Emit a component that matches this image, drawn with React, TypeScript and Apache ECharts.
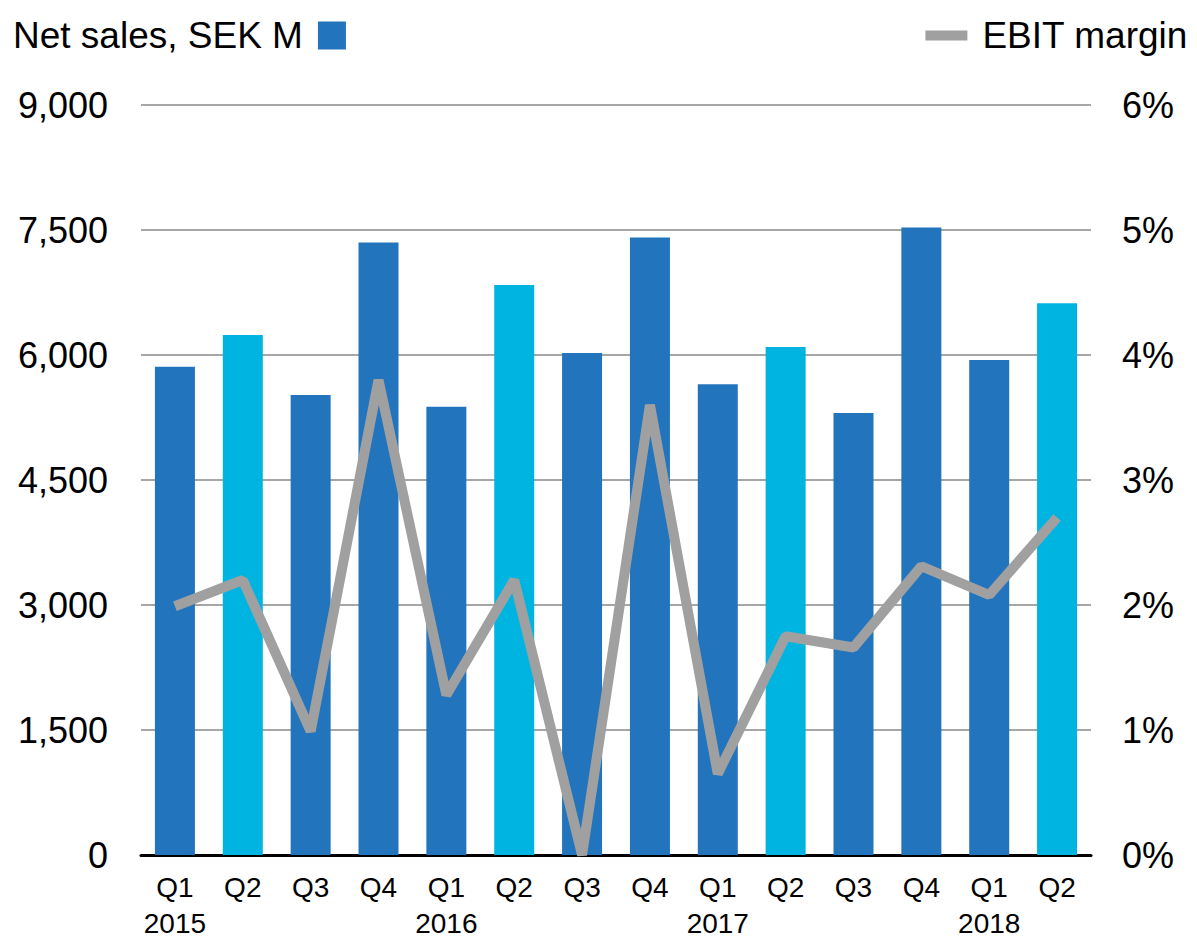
import React, { useEffect, useRef } from "react";
import * as echarts from "echarts";

const quarters = ["Q1", "Q2", "Q3", "Q4", "Q1", "Q2", "Q3", "Q4", "Q1", "Q2", "Q3", "Q4", "Q1", "Q2"];
const years = ["2015", "", "", "", "2016", "", "", "", "2017", "", "", "", "2018", ""];
const netSales = [5860, 6240, 5520, 7350, 5380, 6840, 6025, 7410, 5650, 6095, 5305, 7530, 5940, 6620];
const ebitMargin = [1.99, 2.2, 0.99, 3.8, 1.28, 2.2, 0.0, 3.6, 0.65, 1.75, 1.66, 2.31, 2.08, 2.7];
const leftTicks = { min: 0, max: 9000, interval: 1500 };
const rightTicks = { min: 0, max: 6, interval: 1 };

const DARK = "#2274BD";
const LIGHT = "#00B4E1";
const GRAY = "#A0A0A0";

export default function App() {
  const ref = useRef<HTMLDivElement>(null);
  useEffect(() => {
    document.body.style.margin = "0";
    const chart = echarts.init(ref.current!, null, { renderer: "svg" });
    const cats = quarters.map((q, i) => (years[i] ? q + "\n" + years[i] : q));
    chart.setOption({
      animation: false,
      textStyle: { fontFamily: "Liberation Sans, Arial, sans-serif" },
      legend: [
        {
          data: [{ name: "Net sales, SEK M", icon: "rect" }],
          left: 8,
          top: 12,
          align: "right",
          itemWidth: 28,
          itemHeight: 28,
          itemGap: 10,
          textStyle: { fontSize: 37, color: "#000", padding: [0, 10, 0, 0] },
        },
        {
          data: [{ name: "EBIT margin", icon: "rect" }],
          right: 4,
          top: 12,
          itemWidth: 42,
          itemHeight: 10,
          textStyle: { fontSize: 37, color: "#000", padding: [0, 0, 0, 10] },
        },
      ],
      grid: { left: 141, right: 106, top: 105, bottom: 83, containLabel: false },
      xAxis: {
        type: "category",
        data: cats,
        axisLine: { lineStyle: { color: "#000", width: 3 } },
        axisTick: { show: false },
        axisLabel: { fontSize: 28, color: "#000", margin: 14, lineHeight: 36, interval: 0 },
      },
      yAxis: [
        {
          type: "value",
          ...leftTicks,
          axisLine: { show: false },
          axisTick: { show: false },
          splitLine: { lineStyle: { color: "#A6A6A6", width: 2 } },
          axisLabel: {
            fontSize: 36,
            color: "#000",
            margin: 33,
            formatter: (v: number) => v.toLocaleString("en-US"),
          },
        },
        {
          type: "value",
          ...rightTicks,
          position: "right",
          axisLine: { show: false },
          axisTick: { show: false },
          splitLine: { show: false },
          axisLabel: { fontSize: 36, color: "#000", margin: 31, formatter: (v: number) => v + "%" },
        },
      ],
      series: [
        {
          name: "Net sales, SEK M",
          type: "bar",
          data: netSales.map((v, i) => ({
            value: v,
            itemStyle: { color: quarters[i] === "Q2" ? LIGHT : DARK },
          })),
          itemStyle: { color: DARK },
          barWidth: 40,
        },
        {
          name: "EBIT margin",
          type: "line",
          yAxisIndex: 1,
          data: ebitMargin,
          showSymbol: false,
          symbol: "none",
          itemStyle: { color: GRAY },
          lineStyle: { color: GRAY, width: 10 },
        },
      ],
    });
    return () => chart.dispose();
  }, []);
  return <div ref={ref} style={{ width: 1197, height: 941 }} />;
}
